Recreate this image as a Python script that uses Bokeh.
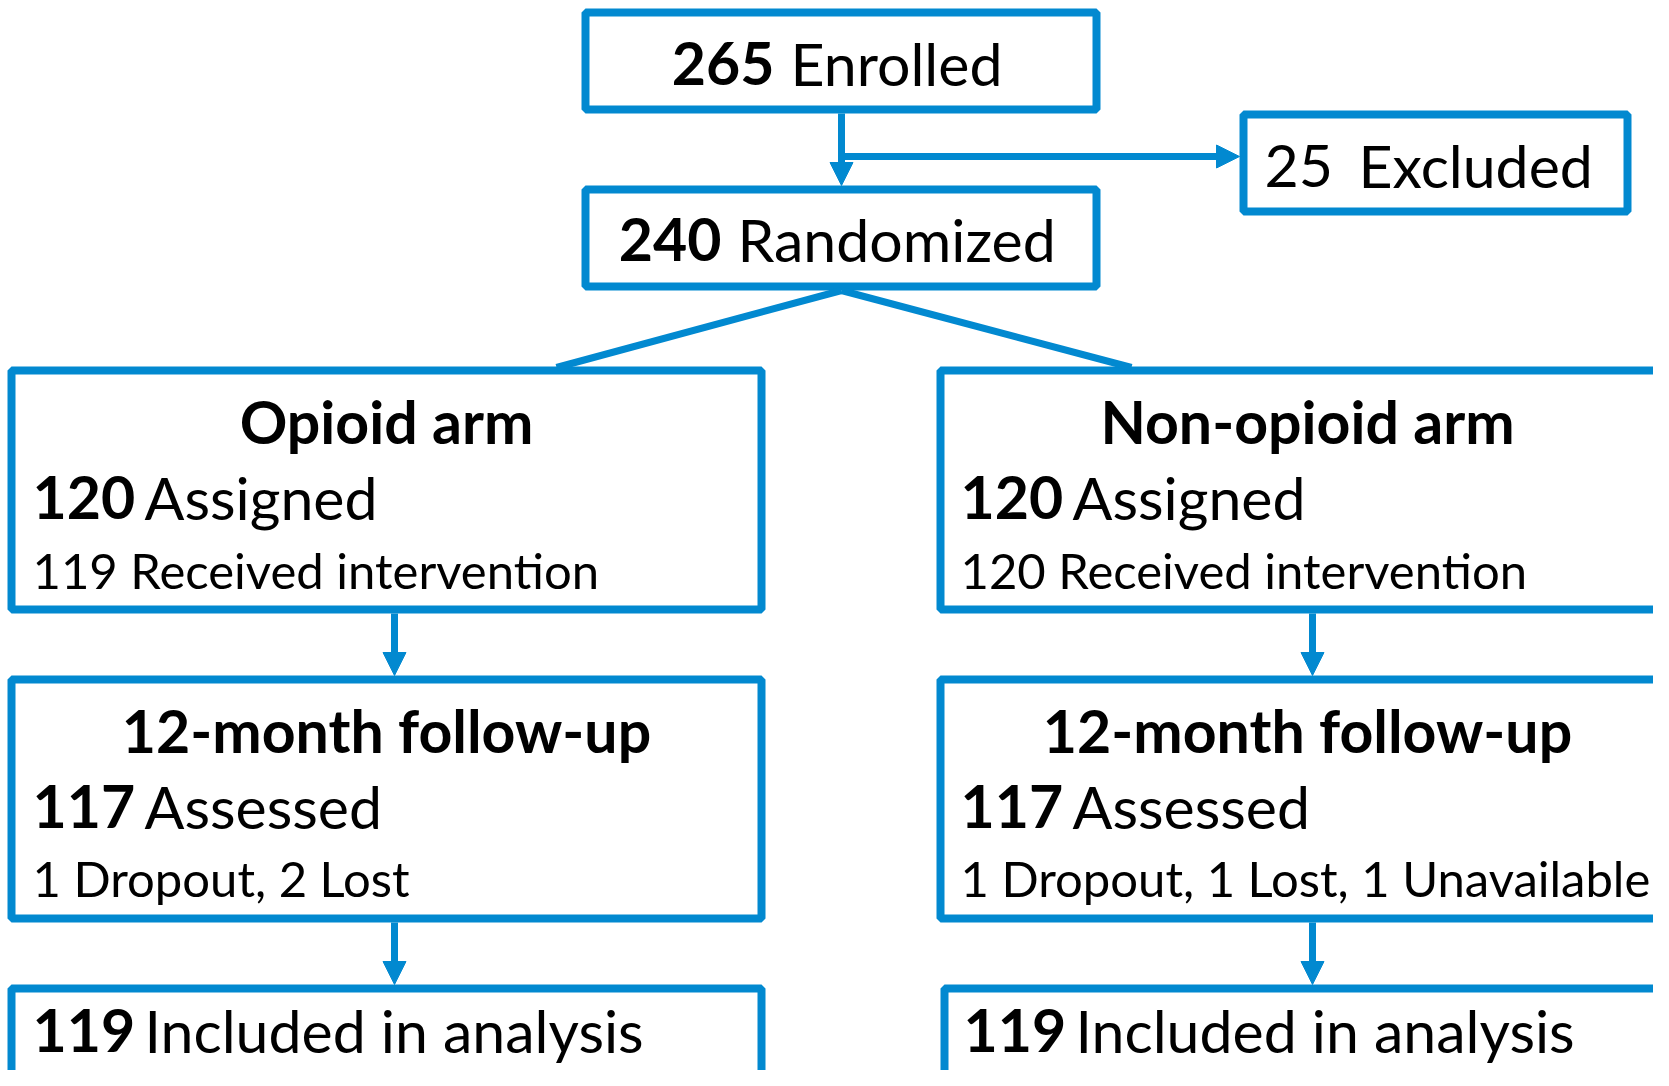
from bokeh.plotting import figure
from bokeh.models import Range1d, Arrow, NormalHead
from bokeh.core.properties import value
from bokeh.embed import file_html
from bokeh.resources import INLINE

# ---- data ----
enrolled_n = 265
excluded_n = 25
randomized_n = 240
arm_names = ["Opioid arm", "Non-opioid arm"]
assigned_n = [120, 120]
received_n = [119, 120]
followup_label = "12-month follow-up"
assessed_n = [117, 117]
attrition_notes = ["1 Dropout, 2 Lost", "1 Dropout, 1 Lost, 1 Unavailable"]
analyzed_n = [119, 119]

# ---- style / layout ----
BLUE = "#0289d0"
FONT = value("Lato")
BIG = 59
SMALL = 49
BW = 8  # box border width
LW = 7  # connector width
BASE_SHIFT = 0.32  # em correction for the renderer's alphabetic baseline

W, H = 1653, 1070
X0 = 3
p = figure(width=W, height=H, x_range=Range1d(X0, X0 + W), y_range=Range1d(X0 + H, X0),
           output_backend="svg", toolbar_location=None, min_border=0,
           x_axis_location=None, y_axis_location=None)
p.grid.visible = False
p.outline_line_color = None
p.background_fill_color = "white"

# boxes: outer left, right, top, bottom
boxes = [
    (584, 1103, 11, 116),     # enrolled
    (1242, 1634, 113, 218),   # excluded
    (584, 1103, 188, 293),    # randomized
    (10, 768, 369, 616),      # opioid arm
    (939, 1720, 369, 616),    # non-opioid arm
    (10, 768, 678, 925),      # follow-up left
    (939, 1720, 678, 925),    # follow-up right
    (10, 768, 987, 1120),     # analysis left
    (943, 1720, 987, 1120),   # analysis right
]
h = BW / 2
p.quad(left=[b[0] + h for b in boxes], right=[b[1] - h for b in boxes],
       top=[b[2] + h for b in boxes], bottom=[b[3] - h for b in boxes],
       fill_color="white", line_color=BLUE, line_width=BW)

# connectors
cx = 844
p.segment(x0=[cx, cx], y0=[293, 293], x1=[559, 1134], y1=[370, 370],
          line_color=BLUE, line_width=LW)

def arrow(x0, y0, x1, y1):
    p.add_layout(Arrow(end=NormalHead(size=23, fill_color=BLUE, line_color=BLUE, line_width=1),
                       x_start=x0, y_start=y0, x_end=x1, y_end=y1,
                       line_color=BLUE, line_width=LW))

arrow(cx, 116, cx, 188)
arrow(cx, 159, 1242, 159)
conn_x = [397, 1315]
for x in conn_x:
    arrow(x, 616, x, 678)
    arrow(x, 925, x, 987)

def txt(x, y, s, size, bold=False, align="left"):
    p.text(x=[x], y=[y - BASE_SHIFT * size], text=[s], text_font=FONT,
           text_font_size=f"{size}px",
           text_font_style="bold" if bold else "normal", text_align=align,
           text_baseline="alphabetic", text_color="black")

# top boxes
txt(777, 85, str(enrolled_n), BIG, True, "right")
txt(793, 85, "Enrolled", BIG)
txt(1267, 187, str(excluded_n), BIG)
txt(1361, 187, "Excluded", BIG)
txt(724, 261, str(randomized_n), BIG, True, "right")
txt(740, 261, "Randomized", BIG)

# arms
arm_left = [35, 963]
arm_center = [389, 1310]
ana_left = [35, 966]
for i in range(2):
    txt(arm_center[i], 443, arm_names[i], BIG, True, "center")
    txt(arm_left[i], 519, str(assigned_n[i]), BIG, True)
    txt(arm_left[i] + 112, 519, "Assigned", BIG)
    txt(arm_left[i], 588, f"{received_n[i]} Received intervention", SMALL)

    txt(arm_center[i], 752, followup_label, BIG, True, "center")
    txt(arm_left[i], 828, str(assessed_n[i]), BIG, True)
    txt(arm_left[i] + 112, 828, "Assessed", BIG)
    txt(arm_left[i], 896, attrition_notes[i], SMALL)

    txt(ana_left[i], 1052, str(analyzed_n[i]), BIG, True)
    txt(ana_left[i] + 112, 1052, "Included in analysis", BIG)

open("out.html", "w").write(file_html(p, INLINE))
